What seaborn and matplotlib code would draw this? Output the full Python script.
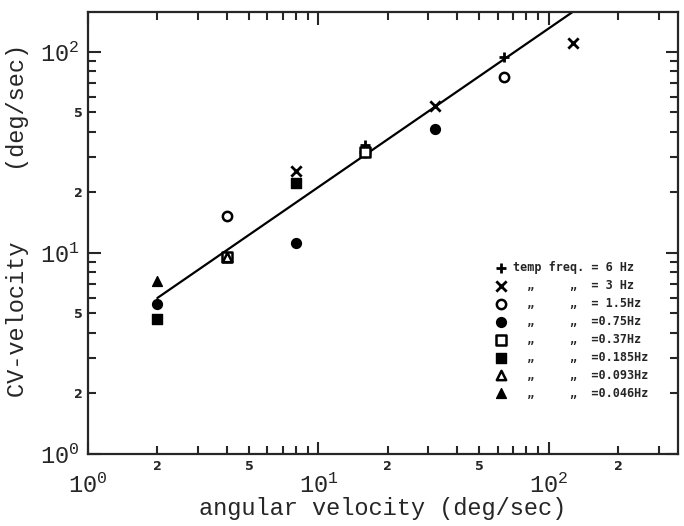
import matplotlib
matplotlib.use("Agg")
import matplotlib.pyplot as plt
import seaborn as sns

# angular velocity (deg/sec) vs CV-velocity (deg/sec), one series per temporal frequency
plus_x, plus_y = [16, 64], [34.5, 94.4]                    # 6 Hz
cross_x, cross_y = [8, 32, 128], [25.6, 53.9, 110.9]       # 3 Hz
ocirc_x, ocirc_y = [4, 16, 64], [15.3, 31.8, 75.1]         # 1.5 Hz
fcirc_x, fcirc_y = [2, 8, 32], [5.6, 11.2, 41.4]           # 0.75 Hz
osq_x, osq_y = [4, 16], [9.55, 31.8]                       # 0.37 Hz
fsq_x, fsq_y = [2, 8], [4.7, 22.3]                         # 0.185 Hz
otri_x, otri_y = [4], [9.55]                               # 0.093 Hz
ftri_x, ftri_y = [2], [7.26]                               # 0.046 Hz

# regression line (end points)
fit_x = [2, 130]
fit_y = [5.97, 161]

legend_labels = [
    "temp freq. = 6 Hz",
    "  \u201e     \u201e  = 3 Hz",
    "  \u201e     \u201e  = 1.5Hz",
    "  \u201e     \u201e  =0.75Hz",
    "  \u201e     \u201e  =0.37Hz",
    "  \u201e     \u201e  =0.185Hz",
    "  \u201e     \u201e  =0.093Hz",
    "  \u201e     \u201e  =0.046Hz",
]

x_major = [1, 10, 100]
x_major_labels = [r"$10^{0}$", r"$10^{1}$", r"$10^{2}$"]
x_minor = [2, 3, 4, 5, 6, 7, 8, 9, 20, 30, 40, 50, 60, 70, 80, 90, 200, 300]
x_minor_labels = ["2", "", "", "5", "", "", "", "", "2", "", "", "5", "", "", "", "", "2", ""]
y_major = [1, 10, 100]
y_major_labels = [r"$10^{0}$", r"$10^{1}$", r"$10^{2}$"]
y_minor = [2, 3, 4, 5, 6, 7, 8, 9, 20, 30, 40, 50, 60, 70, 80, 90]
y_minor_labels = ["2", "", "", "5", "", "", "", "", "2", "", "", "5", "", "", "", ""]

sns.set_style("ticks")
plt.rcParams["font.family"] = ["Liberation Mono", "DejaVu Sans Mono"]
plt.rcParams["mathtext.fontset"] = "custom"
plt.rcParams["mathtext.rm"] = "Liberation Mono"
plt.rcParams["mathtext.it"] = "Liberation Mono"
plt.rcParams["mathtext.default"] = "rm"

fig = plt.figure(figsize=(6.84, 5.26), dpi=100)
ax = fig.add_axes([88 / 684, (526 - 454) / 526, 590 / 684, 442 / 526])
ax.set_xscale("log")
ax.set_yscale("log")

sns.lineplot(x=fit_x, y=fit_y, color="black", linewidth=1.6, ax=ax, zorder=2)

series = [
    (plus_x, plus_y, "+", True),
    (cross_x, cross_y, "x", True),
    (ocirc_x, ocirc_y, "o", False),
    (fcirc_x, fcirc_y, "o", True),
    (osq_x, osq_y, "s", False),
    (fsq_x, fsq_y, "s", True),
    (otri_x, otri_y, "^", False),
    (ftri_x, ftri_y, "^", True),
]
for (xs, ys, mk, filled), lab in zip(series, legend_labels):
    if mk in ("+", "x"):
        sns.scatterplot(x=xs, y=ys, marker=mk, s=55, color="black",
                        linewidth=2, label=lab, ax=ax, zorder=3)
    elif filled:
        sns.scatterplot(x=xs, y=ys, marker=mk, s=50, color="black",
                        edgecolor="black", linewidth=1, label=lab, ax=ax, zorder=3)
    else:
        sns.scatterplot(x=xs, y=ys, marker=mk, s=45, facecolor="white",
                        edgecolor="black", linewidth=1.8, label=lab, ax=ax, zorder=3)

ax.set_xlim(1, 364)
ax.set_ylim(1, 158)

ax.set_xticks(x_major, labels=x_major_labels, fontsize=17)
ax.set_xticks(x_minor, labels=x_minor_labels, minor=True, fontsize=9,
              fontweight="bold", family="DejaVu Sans")
ax.set_yticks(y_major, labels=y_major_labels, fontsize=17)
ax.set_yticks(y_minor, labels=y_minor_labels, minor=True, fontsize=9,
              fontweight="bold", family="DejaVu Sans")

ax.tick_params(which="both", direction="in", top=True, right=True, width=1.5)
ax.tick_params(which="major", length=9)
ax.tick_params(which="minor", length=5.5)
ax.tick_params(axis="x", which="major", pad=14)
ax.tick_params(axis="x", which="minor", pad=4)
ax.tick_params(axis="y", which="major", pad=6)
ax.tick_params(axis="y", which="minor", pad=3.5)
for side in ax.spines.values():
    side.set_linewidth(1.6)

ax.set_xlabel("angular velocity (deg/sec)", fontsize=17)
ax.xaxis.set_label_coords(0.5, -0.098)
ax.set_ylabel("CV-velocity     (deg/sec)", fontsize=17)
ax.yaxis.set_label_coords(-0.10, 0.529)

ax.legend(loc="upper left", bbox_to_anchor=(0.69, 0.437), frameon=False,
          borderpad=0, borderaxespad=0, handlelength=1, handletextpad=0.5,
          labelspacing=0.42, prop={"family": "DejaVu Sans Mono", "weight": "bold", "size": 8.5})

fig.savefig("out.png", dpi=100)
